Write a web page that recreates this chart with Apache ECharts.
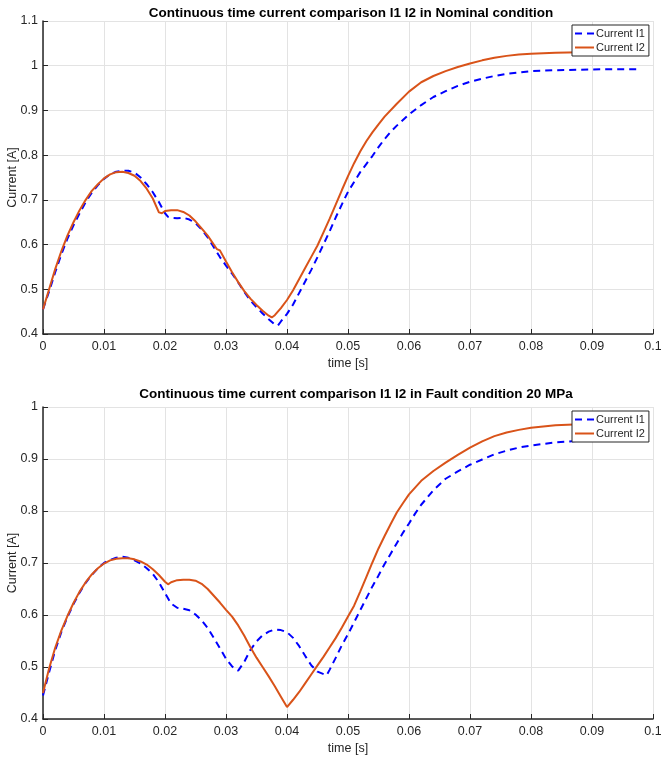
<!DOCTYPE html>
<html>
<head>
<meta charset="utf-8">
<title>Continuous time current comparison</title>
<script src="https://cdn.jsdelivr.net/npm/echarts@6/dist/echarts.min.js"></script>
<style>
  html, body { margin: 0; padding: 0; background: #fff; }
  #chart { width: 661px; height: 757px; }
</style>
</head>
<body>
<div id="chart"></div>
<script>
// Nominal condition – time [s] and current [A] for I1 and I2
const nomTimeI1 = [0,0.001,0.002,0.003,0.004,0.005,0.006,0.007,0.008,0.009,0.010,0.011,0.012,0.013,0.014,0.015,0.016,0.017,0.018,0.019,0.020,0.0205,0.021,0.022,0.023,0.024,0.025,0.026,0.027,0.028,0.029,0.030,0.031,0.032,0.033,0.034,0.035,0.036,0.037,0.038,0.0385,0.039,0.040,0.041,0.042,0.043,0.044,0.045,0.046,0.047,0.048,0.049,0.050,0.051,0.052,0.053,0.054,0.055,0.056,0.057,0.058,0.060,0.062,0.064,0.066,0.068,0.070,0.072,0.074,0.076,0.078,0.080,0.084,0.088,0.092,0.098];
const nomCurrentI1 = [0.455,0.495,0.538,0.578,0.613,0.643,0.670,0.695,0.716,0.733,0.747,0.757,0.763,0.765,0.765,0.761,0.750,0.735,0.717,0.695,0.670,0.662,0.660,0.659,0.660,0.656,0.648,0.634,0.616,0.594,0.572,0.553,0.535,0.515,0.494,0.475,0.460,0.446,0.433,0.421,0.419,0.428,0.445,0.466,0.492,0.518,0.544,0.572,0.601,0.630,0.661,0.690,0.718,0.740,0.762,0.780,0.798,0.818,0.836,0.852,0.866,0.891,0.912,0.930,0.943,0.955,0.964,0.971,0.977,0.982,0.985,0.988,0.990,0.991,0.992,0.992];

const nomTimeI2 = [0,0.001,0.002,0.003,0.004,0.005,0.006,0.007,0.008,0.009,0.010,0.011,0.012,0.013,0.014,0.015,0.016,0.017,0.018,0.019,0.0195,0.020,0.021,0.022,0.023,0.024,0.025,0.026,0.027,0.028,0.0285,0.029,0.030,0.031,0.032,0.033,0.034,0.035,0.036,0.037,0.0375,0.038,0.039,0.040,0.041,0.042,0.043,0.044,0.045,0.046,0.047,0.048,0.049,0.050,0.051,0.052,0.053,0.054,0.055,0.056,0.058,0.060,0.062,0.064,0.066,0.068,0.070,0.072,0.074,0.076,0.078,0.080,0.084,0.088,0.092,0.098];
const nomCurrentI2 = [0.455,0.500,0.545,0.585,0.620,0.650,0.677,0.700,0.720,0.735,0.748,0.757,0.762,0.763,0.760,0.754,0.742,0.725,0.703,0.672,0.670,0.675,0.677,0.677,0.673,0.665,0.652,0.636,0.620,0.600,0.590,0.587,0.562,0.538,0.516,0.496,0.479,0.465,0.452,0.441,0.437,0.442,0.458,0.476,0.498,0.523,0.548,0.573,0.598,0.628,0.658,0.690,0.722,0.753,0.782,0.808,0.831,0.851,0.869,0.886,0.915,0.942,0.963,0.977,0.988,0.997,1.005,1.012,1.018,1.022,1.025,1.027,1.029,1.030,1.031,1.031];

// Fault condition 20 MPa – time [s] and current [A] for I1 and I2
const faultTimeI1 = [0,0.001,0.002,0.003,0.004,0.005,0.006,0.007,0.008,0.009,0.010,0.011,0.012,0.013,0.014,0.015,0.016,0.017,0.018,0.019,0.020,0.021,0.022,0.023,0.024,0.025,0.026,0.027,0.028,0.029,0.030,0.031,0.032,0.033,0.034,0.035,0.036,0.037,0.038,0.039,0.040,0.041,0.042,0.043,0.044,0.045,0.0465,0.047,0.048,0.049,0.050,0.051,0.052,0.053,0.054,0.055,0.056,0.057,0.058,0.059,0.060,0.061,0.062,0.064,0.066,0.068,0.070,0.072,0.074,0.076,0.078,0.080,0.084,0.088,0.092,0.098];
const faultCurrentI1 = [0.445,0.490,0.532,0.567,0.596,0.621,0.643,0.662,0.677,0.690,0.700,0.706,0.710,0.712,0.710,0.705,0.699,0.690,0.679,0.663,0.642,0.622,0.614,0.612,0.609,0.601,0.590,0.575,0.556,0.536,0.516,0.501,0.493,0.510,0.533,0.549,0.561,0.568,0.572,0.571,0.567,0.556,0.540,0.521,0.503,0.491,0.484,0.495,0.518,0.542,0.563,0.586,0.609,0.632,0.655,0.676,0.698,0.718,0.738,0.758,0.776,0.795,0.812,0.840,0.862,0.876,0.889,0.899,0.909,0.916,0.922,0.926,0.932,0.935,0.937,0.937];

const faultTimeI2 = [0,0.001,0.002,0.003,0.004,0.005,0.006,0.007,0.008,0.009,0.010,0.011,0.012,0.013,0.014,0.015,0.016,0.017,0.018,0.019,0.020,0.0205,0.021,0.022,0.023,0.024,0.025,0.026,0.027,0.028,0.029,0.030,0.031,0.032,0.033,0.034,0.035,0.036,0.037,0.038,0.039,0.040,0.041,0.042,0.043,0.044,0.045,0.046,0.047,0.048,0.049,0.050,0.051,0.052,0.053,0.054,0.055,0.056,0.057,0.058,0.059,0.060,0.062,0.064,0.066,0.068,0.070,0.072,0.074,0.076,0.078,0.080,0.084,0.088,0.092,0.098];
const faultCurrentI2 = [0.450,0.497,0.537,0.570,0.598,0.623,0.645,0.663,0.678,0.690,0.699,0.705,0.708,0.709,0.709,0.707,0.703,0.697,0.688,0.677,0.664,0.659,0.663,0.667,0.668,0.668,0.666,0.660,0.650,0.637,0.624,0.610,0.597,0.580,0.560,0.538,0.518,0.500,0.482,0.463,0.443,0.423,0.437,0.452,0.469,0.486,0.503,0.520,0.538,0.556,0.576,0.597,0.618,0.645,0.673,0.701,0.728,0.752,0.775,0.797,0.815,0.832,0.858,0.877,0.893,0.908,0.922,0.934,0.944,0.951,0.956,0.960,0.965,0.967,0.968,0.969];

// Axis ranges and labels
const titles = [
  'Continuous time current comparison I1 I2 in Nominal condition',
  'Continuous time current comparison I1 I2 in Fault condition 20 MPa'
];
const seriesNames = ['Current I1', 'Current I2'];
const xLabel = 'time [s]';
const yLabel = 'Current [A]';
const xRange = [0, 0.1, 0.01];
const yRanges = [[0.4, 1.1, 0.1], [0.4, 1.0, 0.1]];

const zip = (ts, vs) => ts.map((t, i) => [t, vs[i]]);

const AXIS_COLOR = '#262626';
const FONT = 'Liberation Sans, Arial, Helvetica, sans-serif';
const LABEL_SIZE = 12.5;
const BLUE = '#0000ff';
const ORANGE = '#d95319';

const grids = [
  { left: 43, top: 21, width: 610, height: 313, containLabel: false, outerBoundsMode: 'none' },
  { left: 43, top: 407, width: 610, height: 312, containLabel: false, outerBoundsMode: 'none' }
];

function xAxisFor(i) {
  return {
    type: 'value', gridIndex: i,
    min: xRange[0], max: xRange[1], interval: xRange[2],
    name: xLabel, nameLocation: 'middle', nameGap: 23, nameMoveOverlap: false,
    nameTextStyle: { color: AXIS_COLOR, fontSize: LABEL_SIZE, fontFamily: FONT },
    axisLine: { show: true, onZero: false, lineStyle: { color: AXIS_COLOR, width: 1.5 } },
    axisTick: { show: true, inside: true, length: 5, lineStyle: { color: AXIS_COLOR, width: 1 } },
    axisLabel: { color: AXIS_COLOR, fontSize: LABEL_SIZE, fontFamily: FONT, margin: 6, hideOverlap: false },
    splitLine: { show: true, lineStyle: { color: '#e3e3e3', width: 1 } }
  };
}

function yAxisFor(i) {
  const r = yRanges[i];
  return {
    type: 'value', gridIndex: i,
    min: r[0], max: r[1], interval: r[2],
    name: yLabel, nameLocation: 'middle', nameGap: 24, nameRotate: 90, nameMoveOverlap: false,
    nameTextStyle: { color: AXIS_COLOR, fontSize: LABEL_SIZE, fontFamily: FONT },
    axisLine: { show: true, onZero: false, lineStyle: { color: AXIS_COLOR, width: 1.5 } },
    axisTick: { show: true, inside: true, length: 5, lineStyle: { color: AXIS_COLOR, width: 1 } },
    axisLabel: { color: AXIS_COLOR, fontSize: LABEL_SIZE, fontFamily: FONT, margin: 5, hideOverlap: false },
    splitLine: { show: true, lineStyle: { color: '#e3e3e3', width: 1 } }
  };
}

function lineSeries(name, data, i, color, dashed) {
  return {
    name, type: 'line', xAxisIndex: i, yAxisIndex: i,
    data, showSymbol: false, symbol: 'none', smooth: false,
    lineStyle: { color, width: 2, type: dashed ? [7, 5] : 'solid' },
    itemStyle: { color },
    animation: false
  };
}

function legendFor(top) {
  return {
    orient: 'vertical', left: 572, top,
    data: seriesNames,
    itemWidth: 19, itemHeight: 10, itemGap: 3,
    padding: [3, 4, 3, 2],
    itemStyle: { opacity: 0 },
    lineStyle: { width: 2 },
    backgroundColor: '#ffffff', borderColor: AXIS_COLOR, borderWidth: 1, borderRadius: 0,
    textStyle: { color: AXIS_COLOR, fontSize: 11, fontFamily: FONT, padding: [0, 0, 0, -3] },
    selectedMode: false
  };
}

const chart = echarts.init(document.getElementById('chart'), null, { renderer: 'canvas' });
chart.setOption({
  backgroundColor: '#ffffff',
  animation: false,
  title: [
    { text: titles[0], left: 346, top: 1, textAlign: 'center',
      textStyle: { fontSize: 13.5, fontWeight: 'bold', color: '#000', fontFamily: FONT } },
    { text: titles[1], left: 351, top: 382, textAlign: 'center',
      textStyle: { fontSize: 13.5, fontWeight: 'bold', color: '#000', fontFamily: FONT } }
  ],
  legend: [legendFor(25), legendFor(411)],
  grid: grids,
  xAxis: [xAxisFor(0), xAxisFor(1)],
  yAxis: [yAxisFor(0), yAxisFor(1)],
  series: [
    lineSeries(seriesNames[0], zip(nomTimeI1, nomCurrentI1), 0, BLUE, true),
    lineSeries(seriesNames[1], zip(nomTimeI2, nomCurrentI2), 0, ORANGE, false),
    lineSeries(seriesNames[0], zip(faultTimeI1, faultCurrentI1), 1, BLUE, true),
    lineSeries(seriesNames[1], zip(faultTimeI2, faultCurrentI2), 1, ORANGE, false)
  ]
});
</script>
</body>
</html>
